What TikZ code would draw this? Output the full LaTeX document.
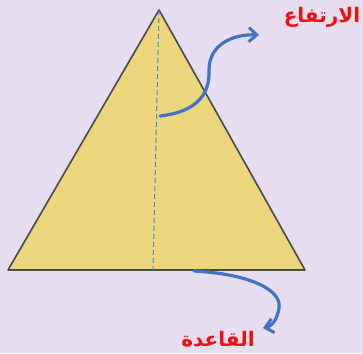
\documentclass[tikz,border=0pt]{standalone}
\usepackage{fontspec}
\newfontfamily\arabicfont[Script=Arabic]{DejaVu Sans}
\TeXXeTstate=1
\usetikzlibrary{arrows.meta}
\definecolor{bgcol}{HTML}{E6DDF0}
\definecolor{trifill}{HTML}{EBD67E}
\definecolor{triedge}{HTML}{4A4A48}
\definecolor{dashblue}{HTML}{3A8FD6}
\definecolor{arrowblue}{HTML}{4473C5}
\definecolor{labelred}{HTML}{F01010}

\begin{document}
\begin{tikzpicture}[x=1pt,y=-1pt,
  pointer/.style={draw=arrowblue,line width=3.2pt,line cap=round,
    -{Straight Barb[length=2.8mm,width=5mm,line width=3pt]}},
  arlabel/.style={text=labelred,inner sep=0pt,
    font=\arabicfont\bfseries\fontsize{20}{24}\selectfont}]
  % background
  \fill[bgcol] (0,0) rectangle (363,353);
  \useasboundingbox (0,0) rectangle (363,353);

  % triangle
  \coordinate (apex) at (159,10);
  \coordinate (bl) at (8,270);
  \coordinate (br) at (305,270);
  \coordinate (foot) at (153,270);
  \fill[trifill,draw=triedge,line width=1.6pt,line join=round]
    (apex) -- (br) -- (bl) -- cycle;
  \draw[dashblue,line width=1pt,dash pattern=on 5pt off 3pt] (apex) -- (foot);

  % labels
  \node[arlabel] (height) at (322,17) {\beginR الارتفاع\endR};
  \node[arlabel] (base) at (218,339) {\beginR القاعدة\endR};

  % pointers
  \coordinate (hstart) at (160,116);
  \coordinate (hend) at (259,35);
  \coordinate (bstart) at (194,271);
  \coordinate (bend) at (263,328);
  \draw[pointer] (hstart) .. controls (196,112) and (210,95) .. (209,70)
    .. controls (209,45) and (232,34) .. (hend);
  \draw[pointer] (bstart) .. controls (250,274) and (282,290) .. (279,308)
    .. controls (277,320) and (272,326) .. (bend);
\end{tikzpicture}
\end{document}
